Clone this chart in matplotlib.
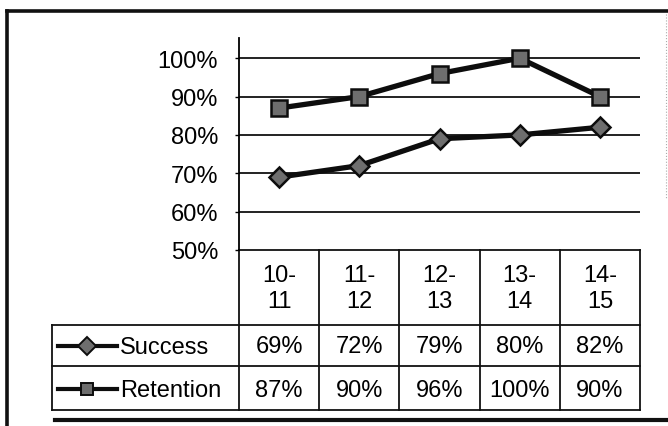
import matplotlib
matplotlib.use("Agg")
import matplotlib.pyplot as plt
from matplotlib.transforms import blended_transform_factory

plt.rcParams['font.family'] = ['Liberation Sans', 'DejaVu Sans']

categories = ['10-\n11', '11-\n12', '12-\n13', '13-\n14', '14-\n15']
success = [69, 72, 79, 80, 82]
retention = [87, 90, 96, 100, 90]
series_names = ['Success', 'Retention']
y_ticks = [50, 60, 70, 80, 90, 100]

W, H = 668, 427
fig = plt.figure(figsize=(W / 100, H / 100), dpi=100)

# pixel-space layer for frame and data table
over = fig.add_axes([0, 0, 1, 1], zorder=0)
over.set_xlim(0, W)
over.set_ylim(H, 0)
over.axis('off')

# plot area
top_px, base_px = 38.5, 251
left_px, right_px = 239, 640
ax = fig.add_axes([left_px / W, (H - base_px) / H, (right_px - left_px) / W,
                   (base_px - top_px) / H], zorder=1)
ax.patch.set_alpha(0)
ax.set_xlim(-0.5, len(categories) - 0.5)
ax.set_ylim(50, 105.4)
for s in ['top', 'right', 'bottom']:
    ax.spines[s].set_visible(False)
ax.spines['left'].set_linewidth(1.3)
ax.set_xticks([])
ax.set_yticks(y_ticks)
ax.set_yticklabels([f'{v}%' for v in y_ticks], fontsize=17)
ax.tick_params(axis='y', length=3, width=1, pad=12)
for v in y_ticks[1:]:
    ax.axhline(v, color='#111111', lw=1.3, zorder=1)

mfill, medge = '#6e6e6e', '#0d0d0d'
x = list(range(len(categories)))
ax.plot(x, retention, color='#0d0d0d', lw=3.8, marker='s', ms=11,
        mfc=mfill, mec=medge, mew=1.8, zorder=3, clip_on=False)
ax.plot(x, success, color='#0d0d0d', lw=3.8, marker='D', ms=10.5,
        mfc=mfill, mec=medge, mew=1.8, zorder=3, clip_on=False)

# data table under the plot, columns follow the category scale
tr = blended_transform_factory(ax.transData, over.transData)
row_top, head_bot, mid_row, row_bot = 251, 326, 367, 411
tab_left = 52
bounds = [i - 0.5 for i in range(len(categories) + 1)]
lc = '#111111'
for b in bounds:
    over.plot([b, b], [row_top, row_bot], color=lc, lw=1.3, transform=tr)
over.plot([bounds[0], bounds[-1]], [row_top, row_top], color=lc, lw=1.3, transform=tr)
over.plot([tab_left, right_px], [head_bot, head_bot], color=lc, lw=1.3)
over.plot([tab_left, right_px], [mid_row, mid_row], color=lc, lw=1.3)
over.plot([tab_left, right_px], [row_bot, row_bot], color=lc, lw=1.3)
over.plot([tab_left, tab_left], [head_bot, row_bot], color=lc, lw=1.3)

for i, cat in enumerate(categories):
    over.text(i, 289, cat, transform=tr, ha='center', va='center',
              fontsize=17, linespacing=1.25)
    over.text(i, 347, f'{success[i]}%', transform=tr, ha='center',
              va='center', fontsize=17)
    over.text(i, 391, f'{retention[i]}%', transform=tr, ha='center',
              va='center', fontsize=17)

# legend keys inside the table
for name, yc, mk, ms in [(series_names[0], 347, 'D', 9), (series_names[1], 390, 's', 9)]:
    over.plot([58, 117], [yc, yc], color='#0d0d0d', lw=3)
    over.plot([87], [yc], marker=mk, ms=ms, mfc=mfill, mec=medge, mew=1.4)
    over.text(120, yc + 1, name, ha='left', va='center', fontsize=17)

# outer frame
over.plot([7, 7], [12, H], color='#111111', lw=2.6)
over.plot([7, W], [12, 12], color='#111111', lw=2.6)
over.plot([55, W], [421, 421], color='#111111', lw=3)
over.plot([666, 666], [15, 200], color='#aaaaaa', lw=0.8, ls=':')

fig.savefig('out.png', dpi=100)
